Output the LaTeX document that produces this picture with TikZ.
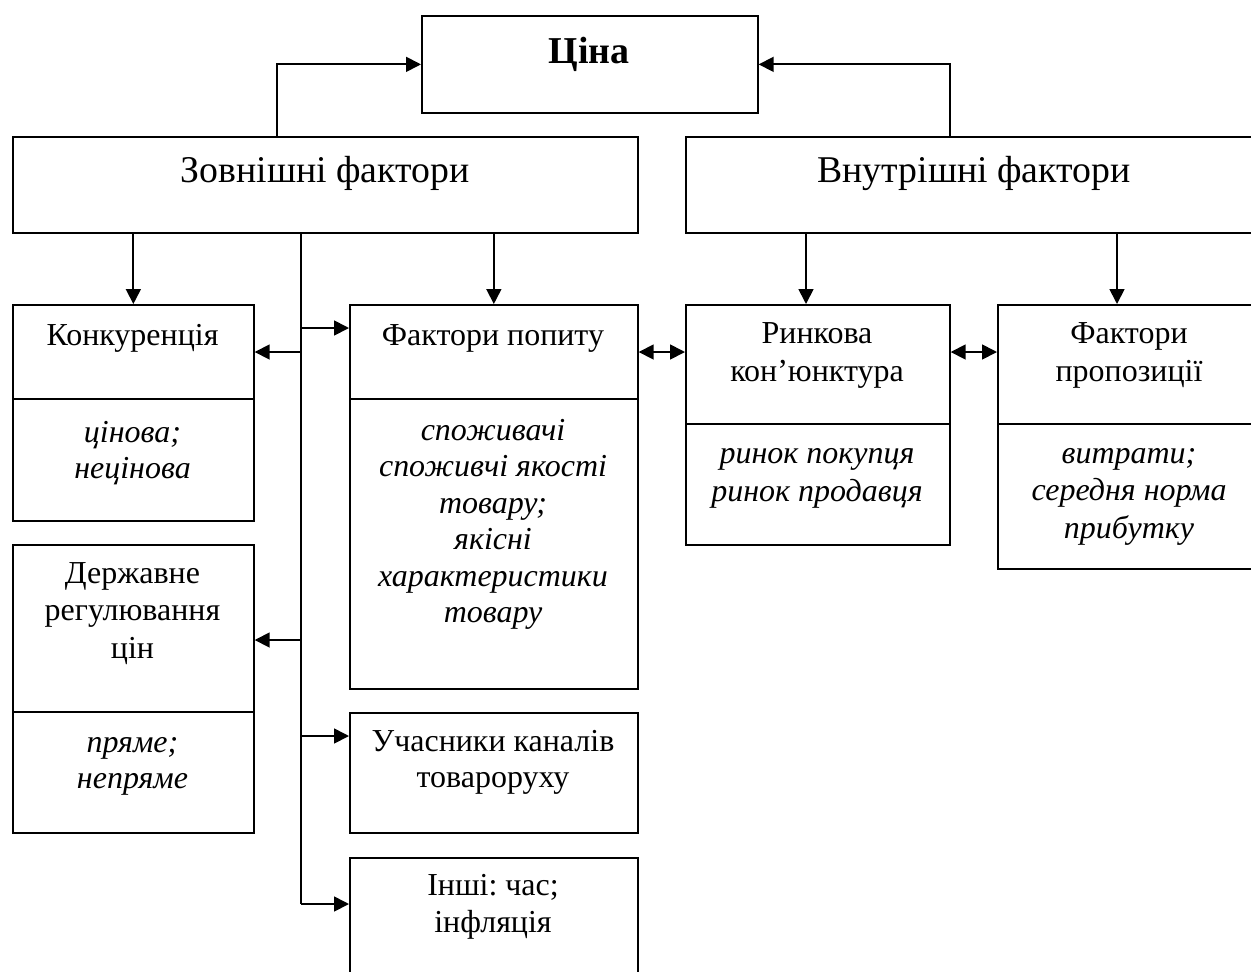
\documentclass[tikz,border=0pt]{standalone}
\usepackage{fontspec}
\setmainfont{Liberation Serif}
\frenchspacing
\usetikzlibrary{arrows.meta,positioning,calc}

\begin{document}
\begin{tikzpicture}
[x=0.02cm,y=-0.02cm,
box/.style={draw,line width=1pt,inner sep=0pt,anchor=north west},
hd/.style={inner sep=0pt,anchor=base,align=flush center,text width=5.8cm,
  font=\fontsize{18.2}{21}\selectfont},
itx/.style={hd,font=\fontsize{18.2}{20.8}\selectfont\itshape},
sep/.style={line width=1pt},
myedge/.style={line width=1pt,>={Triangle[length=0.3cm,width=0.3cm]}}]
%
\useasboundingbox (0,0) rectangle (1251,971);
%
\node (cina) [box,minimum width=6.72cm,minimum height=1.94cm] at (421,15) {};
\node (cinaT) [hd,font=\fontsize{21.6}{24}\selectfont\bfseries] at (589,63) {Ціна};
%
\node (zovn) [box,minimum width=12.5cm,minimum height=1.92cm] at (12,136) {};
\node (zovnT) [hd,text width=10cm,font=\fontsize{21.5}{24}\selectfont] at (325,182) {Зовнішні фактори};
\node (vnutr) [box,minimum width=11.56cm,minimum height=1.92cm] at (685,136) {};
\node (vnutrT) [hd,text width=10cm,font=\fontsize{21.5}{24}\selectfont] at (974,182) {Внутрішні фактори};
%
\node (konk) [box,minimum width=4.82cm,minimum height=4.32cm] at (12,304) {};
\node (konkT) [hd] at (132.5,345) {Конкуренція};
\node (konkI) [itx] at (132.5,442) {цінова;\\ нецінова};
\draw[sep] (konk.west |- 0,399) -- (konk.east |- 0,399);
%
\node (popyt) [box,minimum width=5.76cm,minimum height=7.68cm] at (349,304) {};
\node (popytT) [hd] at (493,345) {Фактори попиту};
\node (popytI) [itx] at (493,440) {споживачі\\ споживчі якості\\ товару;\\ якісні\\ характеристики\\ товару};
\draw[sep] (popyt.west |- 0,399) -- (popyt.east |- 0,399);
%
\node (rynok) [box,minimum width=5.28cm,minimum height=4.8cm] at (685,304) {};
\node (rynokT) [hd,font=\fontsize{18.2}{22}\selectfont] at (817,343) {Ринкова\\ кон’юнктура};
\node (rynokI) [itx,font=\fontsize{18.2}{22}\selectfont\itshape] at (817,463) {ринок покупця\\ ринок продавця};
\draw[sep] (rynok.west |- 0,424) -- (rynok.east |- 0,424);
%
\node (propoz) [box,minimum width=5.28cm,minimum height=5.28cm] at (997,304) {};
\node (propozT) [hd,font=\fontsize{18.2}{22}\selectfont] at (1129,343) {Фактори\\ пропозиції};
\node (propozI) [itx,font=\fontsize{18.2}{21.5}\selectfont\itshape] at (1129,463) {витрати;\\ середня норма\\ прибутку};
\draw[sep] (propoz.west |- 0,424) -- (propoz.east |- 0,424);
%
\node (derzh) [box,minimum width=4.82cm,minimum height=5.76cm] at (12,544) {};
\node (derzhT) [hd,font=\fontsize{18.2}{21.5}\selectfont] at (132.5,583) {Державне\\ регулювання\\ цін};
\node (derzhI) [itx] at (132.5,752) {пряме;\\ непряме};
\draw[sep] (derzh.west |- 0,712) -- (derzh.east |- 0,712);
%
\node (uchasn) [box,minimum width=5.76cm,minimum height=2.4cm] at (349,712) {};
\node (uchasnT) [hd] at (493,751) {Учасники каналів\\ товароруху};
%
\node (inshi) [box,minimum width=5.76cm,minimum height=2.8cm] at (349,857) {};
\node (inshiT) [hd,font=\fontsize{18.2}{21.5}\selectfont] at (493,895) {Інші: час;\\ інфляція};
%
\coordinate (zl) at (277,136);
\coordinate (vr) at (950,136);
\draw[myedge,->] (zl) |- (cina.west);
\draw[myedge,->] (vr) |- (cina.east);
%
\draw[myedge,->] (zovn.south -| konk.north) -- (konk.north);
\draw[myedge,->] (zovn.south -| popyt.north) -- (popyt.north);
\coordinate (r1) at (806,232);
\coordinate (r2) at (1117,232);
\draw[myedge,->] (r1) -- (r1 |- rynok.north);
\draw[myedge,->] (r2) -- (r2 |- propoz.north);
%
\coordinate (t0) at (301,232);
\coordinate (t1) at (301,328);
\coordinate (t2) at (301,352);
\coordinate (t3) at (301,640);
\coordinate (t4) at (301,736);
\coordinate (t5) at (301,904);
\draw[myedge] (t0) -- (t5);
\draw[myedge,->] (t1) -- (t1 -| popyt.west);
\draw[myedge,->] (t2) -- (t2 -| konk.east);
\draw[myedge,->] (t3) -- (t3 -| derzh.east);
\draw[myedge,->] (t4) -- (t4 -| uchasn.west);
\draw[myedge,->] (t5) -- (t5 -| inshi.west);
%
\draw[myedge,<->] (t2 -| popyt.east) -- (t2 -| rynok.west);
\draw[myedge,<->] (t2 -| rynok.east) -- (t2 -| propoz.west);
\end{tikzpicture}
\end{document}
